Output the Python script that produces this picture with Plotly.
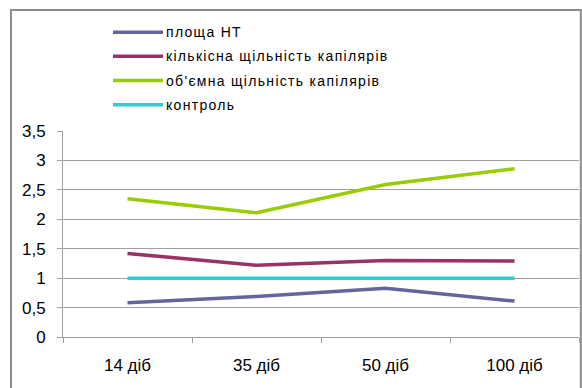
import plotly.graph_objects as go

# Observation periods and series values
periods = ["14 діб", "35 діб", "50 діб", "100 діб"]
series_names = [
    "площа НТ",
    "кількісна щільність капілярів",
    "об'ємна щільність капілярів",
    "контроль",
]
area_nt = [0.58, 0.69, 0.83, 0.61]
count_density = [1.42, 1.22, 1.30, 1.29]
volume_density = [2.35, 2.11, 2.59, 2.86]
control = [1.0, 1.0, 1.0, 1.0]
y_ticks = [0, 0.5, 1, 1.5, 2, 2.5, 3, 3.5]

colors = ["#65659c", "#993366", "#99cc00", "#33cccc"]
all_values = [area_nt, count_density, volume_density, control]

fig = go.Figure()
for name, vals, col in zip(series_names, all_values, colors):
    fig.add_trace(go.Scatter(
        x=periods, y=vals, name=name, mode="lines",
        line=dict(color=col, width=3.5),
        showlegend=False,
    ))

# Hand-drawn legend: long line samples with labels to the right
legend_x0, legend_x1 = 0.0969, 0.1938
legend_rows = [1.479, 1.363, 1.245, 1.127]
shapes = []
annotations = []
for name, col, yy in zip(series_names, colors, legend_rows):
    shapes.append(dict(type="line", xref="paper", yref="paper",
                       x0=legend_x0, x1=legend_x1, y0=yy, y1=yy,
                       line=dict(color=col, width=3.5)))
    annotations.append(dict(xref="paper", yref="paper", x=legend_x1, y=yy,
                            text='<span style="letter-spacing:1.3px">' + name + "</span>",
                            showarrow=False, xanchor="left",
                            yanchor="middle", xshift=1,
                            font=dict(family="Liberation Sans, Arial", size=14,
                                      color="#000000")))

# Outer chart frame
shapes.append(dict(type="rect", xref="paper", yref="paper",
                   x0=-0.1008, x1=1.0035, y0=-0.3, y1=1.587,
                   line=dict(color="#8c8c8c", width=2), layer="below"))

grid = "#a0a0a0"
fig.update_layout(
    width=582, height=388,
    margin=dict(l=63, r=3, t=131, b=51),
    paper_bgcolor="white", plot_bgcolor="white",
    separators=", ",
    shapes=shapes,
    annotations=annotations,
    font=dict(family="Liberation Sans, Arial", color="#000000"),
    xaxis=dict(
        type="category", range=[-0.5, 3.5],
        showgrid=False, showline=True, linecolor=grid, linewidth=1,
        ticks="outside", ticklen=5, tickcolor=grid, tickson="boundaries",
        tickfont=dict(size=17), ticklabelstandoff=13,
        zeroline=False,
    ),
    yaxis=dict(
        range=[0, 3.5], tickvals=y_ticks,
        showgrid=True, gridcolor=grid, gridwidth=1,
        showline=True, linecolor=grid, linewidth=1,
        ticks="outside", ticklen=5, tickcolor=grid,
        tickfont=dict(size=17), ticklabelstandoff=8,
        zeroline=False,
    ),
)

fig.write_html("out.html")
